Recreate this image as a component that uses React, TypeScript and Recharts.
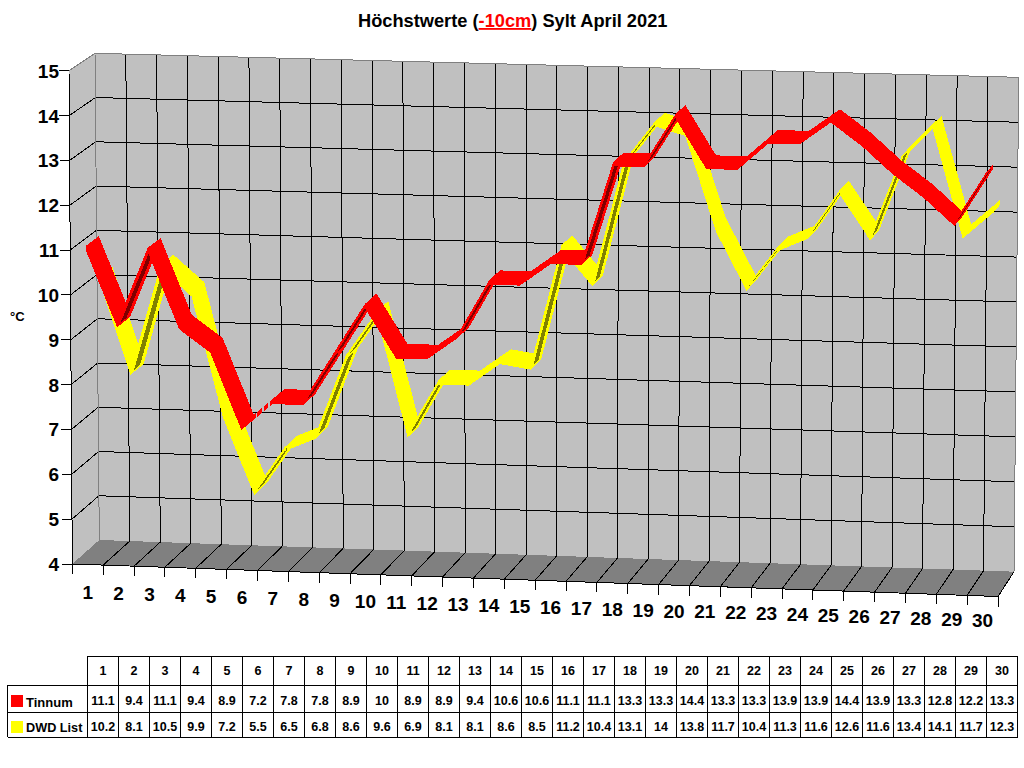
import { ComposedChart, Line, XAxis, YAxis } from 'recharts';

const days = ['1','2','3','4','5','6','7','8','9','10','11','12','13','14','15','16','17','18','19','20','21','22','23','24','25','26','27','28','29','30'];
const tinnum = [11.1,9.4,11.1,9.4,8.9,7.2,7.8,7.8,8.9,10,8.9,8.9,9.4,10.6,10.6,11.1,11.1,13.3,13.3,14.4,13.3,13.3,13.9,13.9,14.4,13.9,13.3,12.8,12.2,13.3];
const dwdList = [10.2,8.1,10.5,9.9,7.2,5.5,6.5,6.8,8.6,9.6,6.9,8.1,8.1,8.6,8.5,11.2,10.4,13.1,14,13.8,11.7,10.4,11.3,11.6,12.6,11.6,13.4,14.1,11.7,12.3];
const yTicks = [4,5,6,7,8,9,10,11,12,13,14,15];

const chartData = days.map((day, i) => ({ day, tinnum: tinnum[i], dwd: dwdList[i] }));

const font = 'Liberation Sans, Arial, sans-serif';

// plot box that recharts scales into, everything is then bent onto the 3d box
const L = 72, T = 70, W = 926, H = 494;

type Pt = [number, number];
const FRONT: Pt[] = [[69, 70.7], [1002, 96], [72.3, 564], [998, 596.5]];
const BACK: Pt[] = [[95, 53.3], [1018.7, 77.3], [99.3, 540], [1014, 571.7]];

const bilerp = (c: Pt[], u: number, v: number, k: 0 | 1) => {
  const top = c[0][k] + (c[1][k] - c[0][k]) * u;
  const bottom = c[2][k] + (c[3][k] - c[2][k]) * u;
  return bottom + (top - bottom) * v;
};

// u: along the days, v: up the values, z: 0 front .. 1 back
const project = (u: number, v: number, z: number): Pt => [
  bilerp(FRONT, u, v, 0) * (1 - z) + bilerp(BACK, u, v, 0) * z,
  bilerp(FRONT, u, v, 1) * (1 - z) + bilerp(BACK, u, v, 1) * z,
];
const toUV = (x: number, y: number) => [(x - L) / W, 1 - (y - T) / H];
const path = (pts: Pt[], dy = 0) => pts.map((p) => `${p[0].toFixed(1)},${(p[1] + dy).toFixed(1)}`).join(' ');

function Seg({ a, b, stroke = '#000' }: { a: Pt; b: Pt; stroke?: string }) {
  return <line x1={a[0]} y1={a[1]} x2={b[0]} y2={b[1]} stroke={stroke} strokeWidth={1} shapeRendering="crispEdges" />;
}

function Box() {
  const floor = [project(0, 0, 0), project(1, 0, 0), project(1, 0, 1), project(0, 0, 1)];
  const back = [project(0, 0, 1), project(1, 0, 1), project(1, 1, 1), project(0, 1, 1)];
  const side = [project(0, 0, 0), project(0, 0, 1), project(0, 1, 1), project(0, 1, 0)];
  return (
    <g>
      <polygon points={path(side)} fill="#c0c0c0" shapeRendering="crispEdges" />
      <polygon points={path(back)} fill="#c0c0c0" shapeRendering="crispEdges" />
      <polygon points={path(floor)} fill="#808080" shapeRendering="crispEdges" />
      {yTicks.slice(1, -1).map((t) => {
        const v = (t - 4) / 11;
        return (
          <g key={t}>
            <Seg a={project(0, v, 0)} b={project(0, v, 1)} />
            <Seg a={project(0, v, 1)} b={project(1, v, 1)} />
          </g>
        );
      })}
      {days.map((d, i) => {
        const u = (i + 1) / days.length;
        return i === days.length - 1 ? null : (
          <g key={d}>
            <Seg a={project(u, 0, 1)} b={project(u, 1, 1)} />
            <Seg a={project(u, 0, 0)} b={project(u, 0, 1)} />
          </g>
        );
      })}
      <Seg a={project(0, 1, 0)} b={project(0, 1, 1)} stroke="#808080" />
      <Seg a={project(0, 1, 1)} b={project(1, 1, 1)} stroke="#808080" />
      <Seg a={project(0, 0, 1)} b={project(0, 1, 1)} stroke="#808080" />
      <Seg a={project(1, 0, 1)} b={project(1, 1, 1)} stroke="#808080" />
      <Seg a={project(1, 0, 0)} b={project(1, 0, 1)} />
      <Seg a={project(0, 0, 0)} b={project(0, 1, 0)} />
      <Seg a={project(0, 0, 0)} b={project(1, 0, 0)} />
      {[...days, ''].map((d, i) => {
        const p = project(i / days.length, 0, 0);
        return <Seg key={i} a={p} b={[p[0], p[1] + 10]} />;
      })}
    </g>
  );
}

function YTick({ y, payload }: any) {
  const [, v] = toUV(L, y);
  const p = project(0, v, 0);
  return (
    <g>
      <Seg a={[p[0] - 10, p[1]]} b={p} />
      <text x={59} y={p[1] + 7} textAnchor="end" fontFamily={font} fontWeight="bold" fontSize={19} fill="#000">{payload.value}</text>
    </g>
  );
}

function XTick({ x, payload }: any) {
  const [u] = toUV(x, T + H);
  const p = project(u, 0, 0);
  return (
    <text x={p[0]} y={p[1] + 28 - 4 * u + 7} textAnchor="middle" fontFamily={font} fontWeight="bold" fontSize={19} fill="#000">{payload.value}</text>
  );
}

// the band has a little height, so its shape is swept down by a few pixels
const THICK = [0, 1, 2, 3, 4];

// one quad of the band per pair of neighbouring points
const ribbon = (z0: number, z1: number, color: string, dark: string) => (props: any) => {
  const { cx, cy, index, points } = props;
  const next = points?.[index + 1];
  if (!next) return <g key={index} />;
  const [u1, v1] = toUV(cx, cy);
  const [u2, v2] = toUV(next.x, next.y);
  const f1 = project(u1, v1, z0), b1 = project(u1, v1, z1);
  const f2 = project(u2, v2, z0), b2 = project(u2, v2, z1);
  const dx = f2[0] - f1[0], dy = f2[1] - f1[1];
  const underside = dx * (b1[1] - f1[1]) - dy * (b1[0] - f1[0]) > 0;
  const zm0 = z0 + (z1 - z0) * 0.27, zm1 = z0 + (z1 - z0) * 0.73;
  return (
    <g key={index}>
      {THICK.map((t) => (
        <polygon key={t} points={path([f1, f2, b2, b1], t)} fill={color} shapeRendering="crispEdges" />
      ))}
      {underside && (
        <polygon
          points={path([project(u1, v1, zm0), project(u2, v2, zm0), project(u2, v2, zm1), project(u1, v1, zm1)], 2)}
          fill={dark}
          shapeRendering="crispEdges"
        />
      )}
    </g>
  );
};

const COL0 = 87.5, COLW = 31, ROWS = [656, 685, 712, 737];

function DataTable() {
  const cell = { fontFamily: font, fontWeight: 'bold', fontSize: 12.5, fill: '#000', textAnchor: 'middle' } as const;
  const right = COL0 + COLW * days.length;
  return (
    <g>
      <Seg a={[COL0, ROWS[0]]} b={[right, ROWS[0]]} />
      <Seg a={[7.5, ROWS[1]]} b={[right, ROWS[1]]} />
      <Seg a={[7.5, ROWS[2]]} b={[right, ROWS[2]]} />
      <Seg a={[7.5, ROWS[3]]} b={[right, ROWS[3]]} />
      <Seg a={[7.5, ROWS[1]]} b={[7.5, ROWS[3]]} />
      {[...days, ''].map((d, i) => (
        <Seg key={i} a={[COL0 + COLW * i, ROWS[0]]} b={[COL0 + COLW * i, ROWS[3]]} />
      ))}
      {days.map((d, i) => {
        const cx = COL0 + COLW * (i + 0.5);
        return (
          <g key={d}>
            <text x={cx} y={675} {...cell}>{d}</text>
            <text x={cx} y={705} {...cell}>{tinnum[i]}</text>
            <text x={cx} y={731} {...cell}>{dwdList[i]}</text>
          </g>
        );
      })}
      <rect x={11} y={695} width={12} height={12} fill="#ff0000" />
      <rect x={11} y={721} width={12} height={12} fill="#ffff00" />
      <text x={26} y={707} fontFamily={font} fontWeight="bold" fontSize={13} fill="#000">Tinnum</text>
      <text x={26} y={732} fontFamily={font} fontWeight="bold" fontSize={12.7} fill="#000">DWD List</text>
    </g>
  );
}

export default function App() {
  return (
    <div style={{ position: 'absolute', left: 0, top: 0, width: 1024, height: 768, background: '#fff' }}>
      <ComposedChart
        width={1024}
        height={768}
        data={chartData}
        margin={{ left: L - 1, top: T, right: 1024 - L - W, bottom: 768 - T - H - 1 }}
      >
        <Box />
        <XAxis dataKey="day" scale="band" height={1} interval={0} axisLine={false} tickLine={false} tick={XTick} />
        <YAxis type="number" domain={[4, 15]} ticks={yTicks} width={1} interval={0} axisLine={false} tickLine={false} tick={YTick} />
        <Line dataKey="dwd" stroke="none" isAnimationActive={false} activeDot={false} dot={ribbon(0.5, 1, '#ffff00', '#808000')} />
        <Line dataKey="tinnum" stroke="none" isAnimationActive={false} activeDot={false} dot={ribbon(0, 0.5, '#ff0000', '#800000')} />
        <text x={358} y={27} fontFamily={font} fontWeight="bold" fontSize={18.24} fill="#000">
          Höchstwerte (<tspan fill="#ff0000" textDecoration="underline">-10cm</tspan>) Sylt April 2021
        </text>
        <text x={10} y={321} fontFamily={font} fontWeight="bold" fontSize={13} fill="#000">°C</text>
        <DataTable />
      </ComposedChart>
    </div>
  );
}
